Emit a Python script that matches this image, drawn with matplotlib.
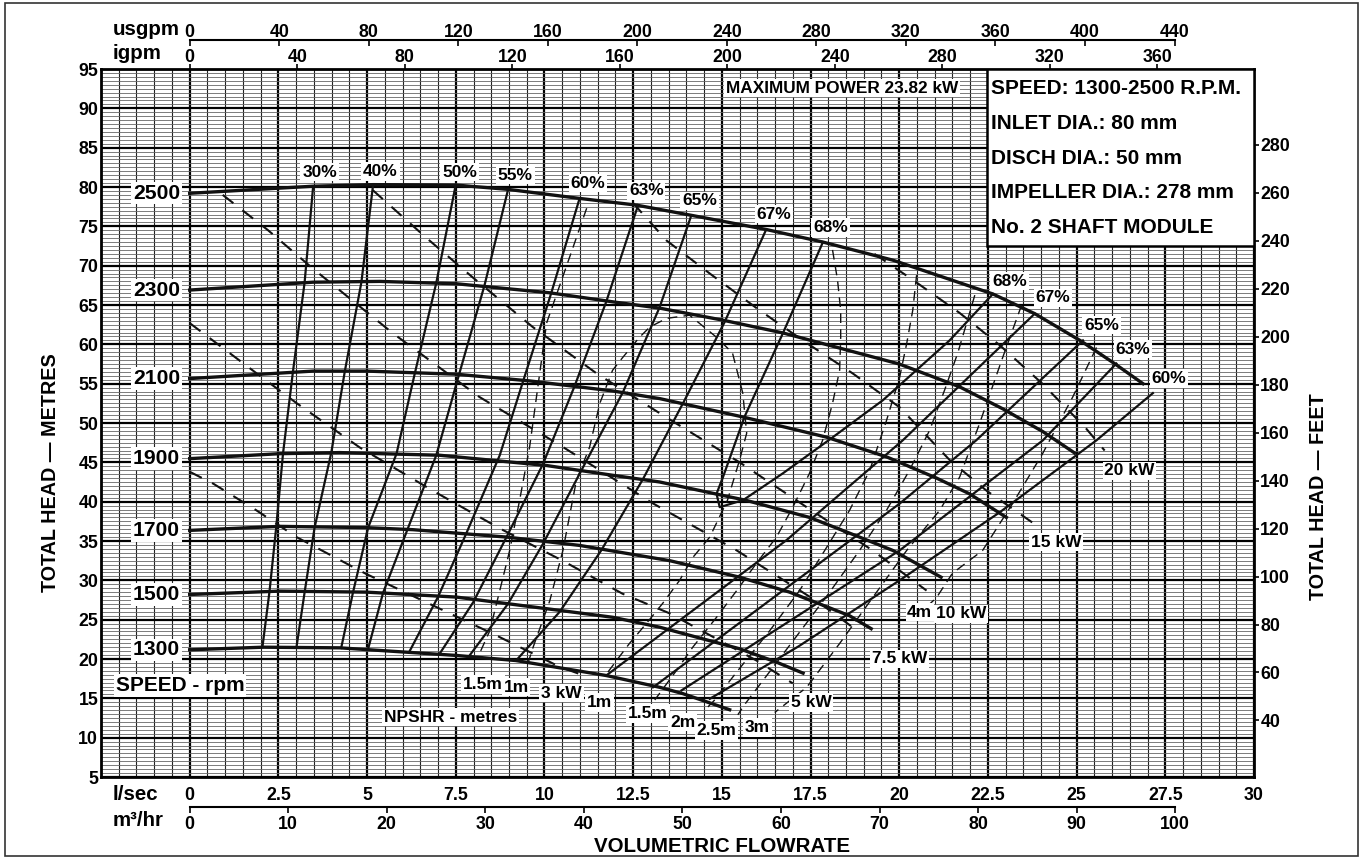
import matplotlib
matplotlib.use("Agg")
import matplotlib.pyplot as plt
import numpy as np
from matplotlib.patches import Rectangle

plt.rcParams['font.family'] = ['Liberation Sans', 'DejaVu Sans']
plt.rcParams['font.weight'] = 'bold'

# ---- speed curves: flow (l/sec) vs total head (m) ----
speed_labels = ['2500', '2300', '2100', '1900', '1700', '1500', '1300']
q_2500 = [0, 3.48, 5.17, 7.52, 8.97, 10.99, 12.59, 14.14, 16.25, 17.85, 19.82, 22.64, 23.82, 25.13, 26.07, 26.87]
h_2500 = [79.2, 80.1, 80.3, 80.24, 79.7, 78.55, 77.7, 76.4, 74.6, 73.0, 70.7, 66.4, 63.9, 60.4, 57.55, 55.0]
q_2300 = [0, 3.48, 5.36, 7.52, 10.15, 11.93, 13.25, 15.03, 16.72, 20.0, 21.7, 22.92, 24.05, 24.94]
h_2300 = [66.9, 67.9, 68.0, 67.7, 66.55, 65.4, 64.6, 63.07, 61.45, 57.5, 54.6, 51.8, 48.9, 46.2]
q_2100 = [0, 3.48, 4.98, 7.52, 9.58, 11.93, 13.25, 15.6, 17.95, 19.64, 21.05, 21.98, 23.02]
h_2100 = [55.65, 56.6, 56.6, 56.2, 55.35, 54.07, 53.1, 50.76, 48.2, 45.7, 43.0, 41.0, 38.0]
q_1900 = [0, 2.54, 4.23, 7.05, 10.05, 11.93, 13.25, 15.69, 17.47, 18.88, 19.82, 21.18]
h_1900 = [45.47, 46.1, 46.24, 45.9, 44.6, 43.35, 42.5, 40.16, 38.0, 35.5, 33.8, 30.4]
q_1700 = [0, 2.54, 4.98, 6.29, 8.93, 10.99, 13.53, 15.5, 16.91, 18.6, 19.21]
h_1700 = [36.35, 36.86, 36.7, 36.44, 35.5, 34.44, 32.5, 30.4, 28.5, 25.5, 23.85]
q_1500 = [0, 2.54, 4.98, 7.52, 10.05, 11.93, 13.25, 15.5, 16.54, 17.29]
h_1500 = [28.2, 28.63, 28.5, 27.87, 26.4, 25.3, 24.04, 21.3, 19.6, 18.2]
q_1300 = [0, 2.07, 4.23, 7.52, 9.2, 11.74, 13.25, 13.9, 15.22]
h_1300 = [21.17, 21.5, 21.42, 20.45, 19.8, 17.9, 16.4, 15.6, 13.55]
speed_q = [q_2500, q_2300, q_2100, q_1900, q_1700, q_1500, q_1300]
speed_h = [h_2500, h_2300, h_2100, h_1900, h_1700, h_1500, h_1300]

# ---- efficiency lines (solid) ----
eff_labels = ['30%', '40%', '50%', '55%', '60%', '63%', '65%', '67%', '68%',
              '68%', '67%', '65%', '63%', '60%']
eff_q = [
    [2.05, 2.25, 2.44, 2.63, 2.91, 3.24, 3.48],
    [3.01, 3.24, 3.52, 3.99, 4.37, 4.84, 5.17],
    [4.27, 4.6, 5.03, 5.83, 6.34, 6.95, 7.5],
    [5.03, 5.45, 6.15, 6.95, 7.56, 8.31, 8.97],
    [6.2, 7.0, 7.8, 8.74, 9.39, 10.19, 10.99],
    [7.05, 7.99, 8.93, 9.96, 10.85, 11.74, 12.64],
    [7.89, 8.97, 9.96, 11.09, 12.21, 13.25, 14.14],
    [9.2, 10.43, 11.6, 12.78, 13.95, 15.08, 16.25],
    [17.85, 16.72, 15.64, 15.03, 14.85, 14.94, 15.6, 16.72, 18.13, 19.54, 20.48, 21.42, 22.64],
    [11.74, 16.82, 20.1, 23.82],
    [13.06, 20.01, 22.17, 25.18],
    [13.86, 20.01, 24.05, 26.12],
    [14.66, 17.16, 20.01, 22.83, 25.56, 27.15],
]
eff_h = [
    [21.5, 28.6, 36.8, 46.1, 56.5, 67.9, 80.1],
    [21.5, 28.5, 36.7, 46.2, 56.5, 67.9, 80.3],
    [21.4, 28.4, 36.7, 46.1, 56.2, 67.8, 80.3],
    [21.3, 28.4, 36.6, 45.9, 55.65, 67.5, 79.6],
    [21.0, 27.9, 36.0, 45.9, 55.2, 66.5, 78.55],
    [20.7, 27.2, 35.5, 44.8, 54.7, 65.4, 77.7],
    [20.45, 27.0, 34.65, 44.4, 53.9, 64.76, 76.4],
    [19.8, 26.0, 33.8, 42.9, 52.9, 62.85, 74.6],
    [73.0, 61.4, 50.8, 43.1, 41.0, 39.3, 40.2, 43.6, 48.2, 52.9, 56.7, 60.5, 66.4],
    [17.9, 35.1, 47.8, 63.9],
    [16.4, 39.75, 47.8, 60.5],
    [16.0, 33.8, 47.8, 57.56],
    [14.94, 21.6, 30.0, 38.64, 47.8, 53.8],
]

# ---- power lines (long dashes) ----
kw_labels = ['3 kW', '5 kW', '7.5 kW', '10 kW', '15 kW', '20 kW']
kw_q = [
    [0, 0.66, 1.88, 3.01, 4.98, 6.86, 8.64, 10.43, 10.99],
    [0, 1.89, 3.02, 4.79, 6.85, 8.74, 10.51, 12.2, 13.53, 15.98, 17.0],
    [0.93, 2.21, 3.48, 5.73, 8.17, 10.43, 13.05, 15.42, 17.76, 18.88],
    [5.16, 6.68, 7.98, 9.67, 11.47, 13.44, 15.5, 17.39, 19.25, 20.77],
    [12.49, 13.44, 14.66, 15.98, 17.28, 18.69, 20.01, 21.42, 22.46, 23.96],
    [19.3, 20.38, 21.7, 22.83, 24.01, 25.23, 25.79],
]
kw_h = [
    [43.8, 42.3, 38.9, 35.5, 30.8, 26.8, 23.0, 19.0, 18.1],
    [62.7, 56.3, 52.5, 46.9, 41.4, 36.6, 32.5, 28.3, 25.8, 19.8, 16.9],
    [79.0, 74.5, 69.6, 61.4, 53.3, 47.2, 39.8, 33.8, 27.1, 23.4],
    [79.6, 73.5, 68.5, 62.2, 56.3, 50.7, 45.0, 39.3, 33.8, 28.7],
    [78.0, 73.2, 69.0, 64.6, 60.5, 56.3, 52.0, 45.3, 41.4, 36.7],
    [71.5, 68.2, 64.0, 59.9, 55.1, 49.5, 46.5],
]

# ---- NPSHR lines (short dashes); the 1 m line is one closed-top loop ----
npsh_labels = ['1.5m', '1m', '1m', '1.5m', '2m', '2.5m', '3m', '4m']
npsh_q = [
    [11.19, 10.06, 9.58, 9.30, 9.02, 8.46, 8.17],
    [9.53, 9.68, 10.15, 10.52, 10.9, 11.27, 11.56, 11.92, 12.2, 12.68, 12.97, 13.44, 14.09,
     14.85, 15.3, 15.59, 15.7, 15.5, 15.16, 14.66, 14.18, 13.81, 13.33, 12.87, 12.4, 12.03, 11.75],
    [18.12, 18.26, 18.35, 18.35, 18.32, 18.12, 17.84, 17.47, 17.0, 16.54, 15.98, 15.42, 14.85, 14.18, 13.73, 13.11],
    [20.49, 20.38, 20.21, 20.01, 19.64, 19.17, 18.6, 17.9, 17.19, 16.35, 15.5, 14.8, 14.52],
    [22.13, 21.9, 21.65, 21.28, 20.86, 20.29, 19.64, 18.88, 18.04, 17.19, 16.35, 15.64, 15.45],
    [23.45, 22.89, 22.27, 21.7, 21.14, 20.21, 19.25, 18.32, 17.39, 16.49],
    [25.56, 24.89, 24.04, 23.2, 22.35, 21.5, 21.05, 20.72],
]
npsh_h = [
    [77.3, 62.7, 46.9, 40.2, 33.8, 23.6, 20.7],
    [19.4, 21.5, 27.4, 33.8, 42.7, 46.9, 52.5, 56.7, 58.3, 60.9, 62.2, 63.3, 63.7,
     60.9, 58.9, 53.8, 48.7, 45.3, 40.2, 35.5, 32.9, 30.0, 27.06, 24.5, 22.0, 19.8, 18.1],
    [72.0, 68.2, 64.3, 60.9, 56.7, 52.5, 47.8, 43.6, 39.3, 35.5, 32.2, 28.7, 25.3, 21.5, 18.6, 14.8],
    [68.8, 64.3, 60.1, 55.8, 50.3, 44.0, 38.9, 33.8, 28.7, 23.6, 18.8, 14.8, 13.5],
    [66.25, 62.7, 58.9, 54.2, 49.1, 44.0, 38.9, 33.8, 28.5, 23.4, 18.4, 14.2, 12.9],
    [65.0, 58.0, 50.0, 43.1, 38.9, 33.8, 27.8, 21.97, 16.4, 13.2],
    [59.6, 53.3, 46.1, 39.8, 33.8, 30.9, 27.8, 26.4],
]

info_lines = ['SPEED: 1300-2500 R.P.M.', 'INLET DIA.: 80 mm', 'DISCH DIA.: 50 mm',
              'IMPELLER DIA.: 278 mm', 'No. 2 SHAFT MODULE']

# label anchor points (l/sec, m)
eff_label_pos = [(3.66, 81.9), (5.38, 82.0), (7.61, 81.9), (9.18, 81.5), (11.22, 80.5),
                 (12.87, 79.5), (14.37, 78.24), (16.46, 76.55), (18.06, 74.86),
                 (23.11, 68.03), (24.33, 65.9), (25.7, 62.43), (26.59, 59.38), (27.6, 55.65)]
kw_label_pos = [(10.48, 15.65), (17.52, 14.5), (20.01, 20.03), (21.75, 25.75), (24.43, 34.86), (26.49, 43.9)]
npsh_label_pos = [(8.27, 16.76), (9.2, 16.41), (11.56, 14.5), (12.92, 13.1), (13.9, 11.96),
                  (14.85, 10.9), (16.0, 11.32), (20.58, 25.95)]

fig = plt.figure(figsize=(13.64, 8.58), dpi=100)
ax = fig.add_axes([101 / 1364, 1 - 777 / 858, (1254 - 101) / 1364, (777 - 69) / 858])
ax.set_xlim(-2.5, 30)
ax.set_ylim(5, 95)

# grid
ax.set_xticks(np.arange(-2.5, 30.01, 2.5))
ax.set_xticklabels(['' if v < 0 else f'{v:g}' for v in np.arange(-2.5, 30.01, 2.5)])
ax.set_xticks(np.arange(-2.5, 30.01, 0.5), minor=True)
ax.set_yticks(np.arange(5, 96, 5))
ax.set_yticks(np.arange(5, 95.01, 0.5), minor=True)
ax.tick_params(which='both', length=0, labelsize=12.8)
ax.tick_params(axis='x', pad=7)
ax.tick_params(axis='y', pad=2)
ax.xaxis.grid(True, which='minor', color='#222222', lw=0.8)
ax.yaxis.grid(True, which='minor', color='#666666', lw=0.6)
ax.xaxis.grid(True, which='major', color='black', lw=1.6)
ax.yaxis.grid(True, which='major', color='black', lw=1.6)
ax.set_axisbelow(True)
for s in ax.spines.values():
    s.set_linewidth(2)

white_box = dict(facecolor='white', edgecolor='none', pad=1.2)

# NPSHR lines
for q, h in zip(npsh_q, npsh_h):
    ax.plot(q, h, color='#111111', lw=1.0, ls=(0, (7, 4.5)), zorder=2)

# power lines
for q, h in zip(kw_q, kw_h):
    ax.plot(q, h, color='#111111', lw=1.5, ls=(0, (6.5, 5.5)), zorder=2)

# efficiency lines
for q, h in zip(eff_q, eff_h):
    ax.plot(q, h, color='#111111', lw=1.6, zorder=3, solid_joinstyle='round')

# speed curves
for lab, q, h in zip(speed_labels, speed_q, speed_h):
    ax.plot(q, h, color='#111111', lw=2.4, zorder=4, solid_joinstyle='round')
    ax.text(-0.94, h[0], lab, ha='center', va='center', fontsize=15.2, bbox=white_box, zorder=6)

for t, (x, y) in zip(eff_labels, eff_label_pos):
    ax.text(x, y, t, ha='center', va='center', fontsize=12.5, bbox=white_box, zorder=6)

for t, (x, y) in zip(kw_labels, kw_label_pos):
    ax.text(x, y, t, ha='center', va='center', fontsize=12.5, bbox=white_box, zorder=6)

for t, (x, y) in zip(npsh_labels, npsh_label_pos):
    ax.text(x, y, t, ha='center', va='center', fontsize=12.5, bbox=white_box, zorder=6)

ax.text(7.36, 12.6, 'NPSHR - metres', ha='center', va='center', fontsize=12.5, bbox=white_box, zorder=6)
ax.text(-0.27, 16.63, 'SPEED - rpm', ha='center', va='center', fontsize=15, bbox=white_box, zorder=6)
ax.text(18.39, 92.58, 'MAXIMUM POWER 23.82 kW', ha='center', va='center', fontsize=12.4,
        bbox=white_box, zorder=6)

# info box
ax.add_patch(Rectangle((22.46, 72.5), 30 - 22.46, 95 - 72.5, facecolor='white',
                       edgecolor='black', lw=1.8, zorder=7))
info_y = [92.46, 88.13, 83.68, 79.35, 74.9]
for t, y in zip(info_lines, info_y):
    ax.text(22.6, y, t, ha='left', va='center', fontsize=15, zorder=8)

# secondary scales
ft = ax.secondary_yaxis('right', functions=(lambda m: m / 0.3048, lambda f: f * 0.3048))
ft.set_yticks(np.arange(40, 281, 20))
ft.tick_params(length=3.5, width=1.2, pad=1, labelsize=12.8)
ft.spines['right'].set_visible(False)

igpm = ax.secondary_xaxis('top', functions=(lambda q: q * 13.198, lambda g: g / 13.198))
igpm.set_xticks(np.arange(0, 361, 40))
igpm.tick_params(direction='out', length=3.5, width=1.2, pad=-1.2, labelsize=12.8)
igpm.spines['top'].set_visible(False)

usg = ax.secondary_xaxis(1 + 29 / 708, functions=(lambda q: q * 15.850, lambda g: g / 15.850))
usg.set_xticks(np.arange(0, 441, 40))
usg.tick_params(direction='in', length=4, width=1.2, pad=-0.8, labelsize=12.8)
usg.spines['top'].set_bounds(0, 440)
usg.spines['top'].set_linewidth(1.5)

m3 = ax.secondary_xaxis(-29.7 / 708, functions=(lambda q: q * 3.6, lambda m: m / 3.6))
m3.set_xticks(np.arange(0, 101, 10))
m3.tick_params(direction='out', length=4, width=1.2, pad=3, labelsize=12.8)
m3.spines['bottom'].set_bounds(0, 100)
m3.spines['bottom'].set_linewidth(1.5)

# scale names and axis titles
fig.text(113 / 1364, 1 - 35 / 858, 'usgpm', ha='left', va='baseline', fontsize=14.8)
fig.text(113 / 1364, 1 - 59 / 858, 'igpm', ha='left', va='baseline', fontsize=14.8)
fig.text(113 / 1364, 1 - 800 / 858, 'l/sec', ha='left', va='baseline', fontsize=14.8)
fig.text(113 / 1364, 1 - 826 / 858, 'm³/hr', ha='left', va='baseline', fontsize=14.8)
fig.text(51 / 1364, 1 - 473 / 858, 'TOTAL HEAD — METRES', rotation=90, ha='center', va='center', fontsize=14.2)
fig.text(1319 / 1364, 1 - 497 / 858, 'TOTAL HEAD — FEET', rotation=90, ha='center', va='center', fontsize=14.2)
fig.text(722 / 1364, 1 - 846 / 858, 'VOLUMETRIC FLOWRATE', ha='center', va='center', fontsize=14.8)

fig.patches.append(Rectangle((5 / 1364, 2 / 858), 1353 / 1364, 853 / 858, transform=fig.transFigure,
                             fill=False, edgecolor='#333333', lw=1.2))

fig.savefig('out.png', dpi=100)
